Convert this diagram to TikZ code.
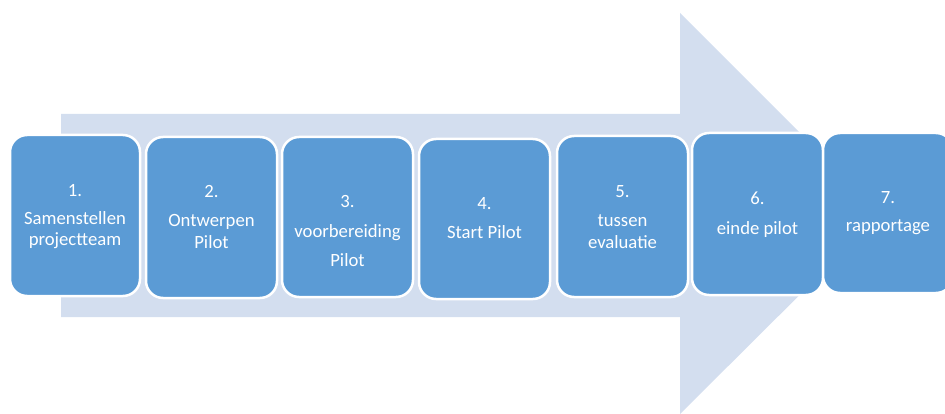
\documentclass[tikz,border=0pt]{standalone}
\usepackage{fontspec}
\setmainfont{Carlito}
\definecolor{arrowbg}{HTML}{D3DEEF}
\definecolor{boxblue}{HTML}{5B9BD5}
\begin{document}
\begin{tikzpicture}[x=1pt,y=-1pt,
  stepbox/.style={draw=white,line width=2.5pt,fill=boxblue,rounded corners=17pt},
  lbl/.style={anchor=base,text=white,font=\fontsize{18.7}{22}\selectfont,inner sep=0pt}]
\useasboundingbox (0,0) rectangle (945,414);
\begin{scope}
\clip (0,0) rectangle (945,414);
\fill[arrowbg] (61,114) -- (680,114) -- (680,13) -- (881,214) -- (680,414) -- (680,317) -- (61,317) -- cycle;
\draw[stepbox] (10,135) rectangle (140,296) node[midway] (b1) {};
\draw[stepbox] (146,137) rectangle (277,298) node[midway] (b2) {};
\draw[stepbox] (282,137) rectangle (413,297) node[midway] (b3) {};
\draw[stepbox] (419,139) rectangle (550,299) node[midway] (b4) {};
\draw[stepbox] (557,136) rectangle (688,297) node[midway] (b5) {};
\draw[stepbox] (692,133) rectangle (823,295) node[midway] (b6) {};
\draw[stepbox] (823,133) rectangle (953,293) node[midway] (b7) {};
\end{scope}
\node[lbl] (t1a) at (75,197) {1.};
\node[lbl] (t1b) at (75,225) {Samenstellen};
\node[lbl] (t1c) at (75,245) {projectteam};
\node[lbl] (t2a) at (211.5,198) {2.};
\node[lbl] (t2b) at (211.5,227) {Ontwerpen};
\node[lbl] (t2c) at (211.5,248) {Pilot};
\node[lbl] (t3a) at (347.5,208) {3.};
\node[lbl] (t3b) at (347.5,237) {voorbereiding};
\node[lbl] (t3c) at (347.5,266) {Pilot};
\node[lbl] (t4a) at (484.5,210) {4.};
\node[lbl] (t4b) at (484.5,239) {Start Pilot};
\node[lbl] (t5a) at (622.5,198) {5.};
\node[lbl] (t5b) at (622.5,227) {tussen};
\node[lbl] (t5c) at (622.5,248) {evaluatie};
\node[lbl] (t6a) at (757.5,205) {6.};
\node[lbl] (t6b) at (757.5,235) {einde pilot};
\node[lbl] (t7a) at (888,204) {7.};
\node[lbl] (t7b) at (888,232) {rapportage};
\end{tikzpicture}
\end{document}
